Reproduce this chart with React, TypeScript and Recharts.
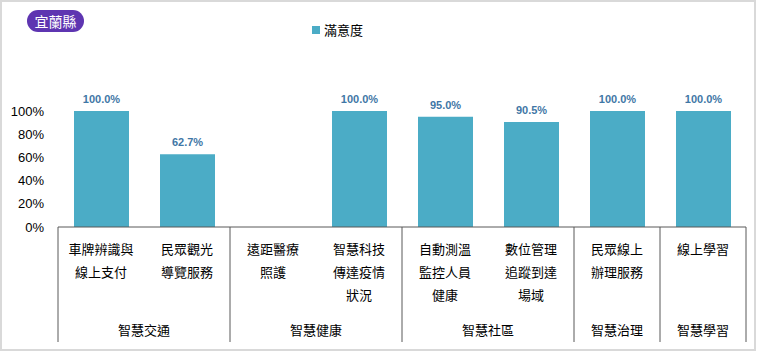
import { BarChart, Bar, XAxis, YAxis, LabelList } from 'recharts'

const categories = ['c1', 'c2', 'c3', 'c4', 'c5', 'c6', 'c7', 'c8']
const categoryLines = [
  ['車牌辨識與', '線上支付'],
  ['民眾觀光', '導覽服務'],
  ['遠距醫療', '照護'],
  ['智慧科技', '傳達疫情', '狀況'],
  ['自動測溫', '監控人員', '健康'],
  ['數位管理', '追蹤到達', '場域'],
  ['民眾線上', '辦理服務'],
  ['線上學習'],
]
const satisfaction = [1.0, 0.627, 0.0, 1.0, 0.95, 0.905, 1.0, 1.0]
const groupNames = ['智慧交通', '智慧健康', '智慧社區', '智慧治理', '智慧學習']
const groupSizes = [2, 2, 2, 1, 1]
const yTicks = [0, 0.2, 0.4, 0.6, 0.8, 1]
const seriesName = '滿意度'
const regionName = '宜蘭縣'

const W = 757
const H = 352
const PLOT_LEFT = 58
const PLOT_RIGHT = 746
const BAND = (PLOT_RIGHT - PLOT_LEFT) / categories.length
const CJK = '"Noto Sans CJK TC", "Noto Sans", sans-serif'
const LATIN = '"Liberation Sans", Arial, sans-serif'
const AXIS_COLOR = '#595959'
const BAR_COLOR = '#4BACC6'

const data = categories.map((key, i) => ({ key, value: satisfaction[i] }))

// start index of each group
const groupStarts: number[] = []
groupSizes.reduce((acc, size) => {
  groupStarts.push(acc)
  return acc + size
}, 0)

function CategoryTick(props: any) {
  const { x, y, index } = props
  const lines = categoryLines[index] || []
  const g = groupStarts.indexOf(index)
  const left = x - BAND / 2
  return (
    <g>
      {lines.map((line, i) => (
        <text
          key={i}
          x={x}
          y={y + 27 + i * 23}
          textAnchor="middle"
          fontSize={13}
          fontFamily={CJK}
          fill="#000"
        >
          {line}
        </text>
      ))}
      {g >= 0 && (
        <>
          <line x1={left} x2={left} y1={y} y2={y + 115} stroke={AXIS_COLOR} strokeWidth={1} />
          <text
            x={left + (groupSizes[g] * BAND) / 2}
            y={y + 108}
            textAnchor="middle"
            fontSize={13}
            fontFamily={CJK}
            fill="#000"
          >
            {groupNames[g]}
          </text>
        </>
      )}
      {index === categories.length - 1 && (
        <line x1={x + BAND / 2} x2={x + BAND / 2} y1={y} y2={y + 115} stroke={AXIS_COLOR} strokeWidth={1} />
      )}
    </g>
  )
}

export default function App() {
  return (
    <div style={{ position: 'absolute', left: 0, top: 0, width: W, height: H, background: '#fff' }}>
      <BarChart
        width={W}
        height={H}
        data={data}
        margin={{ top: 111, right: W - PLOT_RIGHT, bottom: 0, left: 0 }}
        barCategoryGap={0}
      >
        <XAxis
          dataKey="key"
          height={125}
          tickLine={false}
          tickSize={0}
          tickMargin={0}
          interval={0}
          axisLine={{ stroke: AXIS_COLOR, strokeWidth: 1 }}
          tick={<CategoryTick />}
        />
        <YAxis
          width={PLOT_LEFT}
          domain={[0, 1]}
          ticks={yTicks}
          interval={0}
          axisLine={false}
          tickLine={false}
          tickSize={0}
          tickMargin={14}
          tickFormatter={(v: number) => `${Math.round(v * 100)}%`}
          tick={{ fill: '#000', fontSize: 13, fontFamily: LATIN }}
        />
        <Bar dataKey="value" name={seriesName} fill={BAR_COLOR} barSize={55} isAnimationActive={false}>
          <LabelList
            dataKey="value"
            position="top"
            offset={8}
            formatter={(v: any) => `${(Number(v) * 100).toFixed(1)}%`}
            style={{ fill: '#3F77A6', fontSize: 11, fontWeight: 700, fontFamily: LATIN }}
          />
        </Bar>
      </BarChart>
      {/* legend */}
      <div
        style={{
          position: 'absolute',
          left: 312,
          top: 21,
          display: 'flex',
          alignItems: 'center',
          fontFamily: CJK,
          fontSize: 13,
          lineHeight: '18px',
          color: '#000',
        }}
      >
        <span style={{ width: 8, height: 8, background: BAR_COLOR, marginRight: 4 }} />
        <span>{seriesName}</span>
      </div>
      <div
        style={{
          position: 'absolute',
          left: 27,
          top: 10,
          width: 57,
          height: 22,
          borderRadius: 11,
          background: '#5E35B1',
          color: '#fff',
          fontFamily: CJK,
          fontSize: 14,
          lineHeight: '22px',
          textAlign: 'center',
        }}
      >
        {regionName}
      </div>
      <div
        style={{
          position: 'absolute',
          left: 0,
          top: 0,
          width: W - 1,
          height: H - 1,
          boxSizing: 'border-box',
          border: '2px solid #d9d9d9',
          pointerEvents: 'none',
        }}
      />
    </div>
  )
}
